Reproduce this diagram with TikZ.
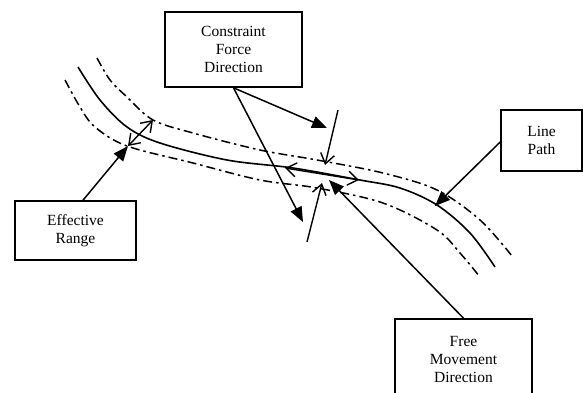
\documentclass[tikz,border=0pt]{standalone}
\usepackage{fontspec}
\setmainfont{Liberation Serif}
\usetikzlibrary{arrows.meta}
\begin{document}
\begin{tikzpicture}[x=1pt,y=-1pt,
  label box/.style={draw, line width=1.6pt, align=center, inner sep=0pt,
    font=\fontsize{15.5}{18}\selectfont},
  guide/.style={line width=1.5pt, dash pattern=on 9pt off 4pt on 2.5pt off 4pt},
  pathline/.style={line width=1.6pt},
  bigarrow/.style={line width=1.5pt, -{Triangle[length=15pt,width=12pt]}},
  openarrow/.style={line width=1.4pt, -{Straight Barb[length=10pt,width=14pt]}},
  opendouble/.style={line width=1.4pt, {Straight Barb[length=10pt,width=14pt]}-{Straight Barb[length=10pt,width=14pt]}}]
\useasboundingbox (0,0) rectangle (583,392);
\clip (0,0) rectangle (583,392);
% boxes
\node[label box, minimum width=137pt, minimum height=75pt] (cfd) at (233.5,49.5) {Constraint\\Force\\Direction};
\node[label box, minimum width=121pt, minimum height=59pt] (er) at (75.5,230.5) {Effective\\Range};
\node[label box, minimum width=81pt, minimum height=61pt] (lp) at (541.5,140.5) {Line\\Path};
\node[label box, minimum width=137pt, minimum height=80pt] (fmd) at (463.5,359) {Free\\Movement\\Direction};
% curves
\draw[pathline] plot[smooth, tension=0.55] coordinates {(78,67) (100,100) (127,127) (160,143) (227,160) (293,168) (360,180) (400,188) (437,205) (470,233) (495,267)};
\draw[guide] plot[smooth, tension=0.55] coordinates {(97,58) (110,80) (127,97) (153,120) (193,133) (260,150) (317,160) (383,173) (437,190) (480,220) (512,256)};
\draw[guide] plot[smooth, tension=0.55] coordinates {(65,80) (80,107) (95,127) (127,146) (193,163) (260,180) (317,188) (383,203) (437,230) (460,253) (480,277)};
% coordinates
\coordinate (erlow) at (128,146);
\coordinate (erup) at (153,120);
\coordinate (cftip1) at (327,128);
\coordinate (cftip2) at (303,222);
\coordinate (s1a) at (338,110);
\coordinate (s1b) at (325,165);
\coordinate (s2a) at (307,242);
\coordinate (s2b) at (322,183);
\coordinate (fmleft) at (285,168);
\coordinate (fmright) at (359,180);
\coordinate (fmtip) at (329,180);
\coordinate (lptip) at (435,206);
% arrows
\draw[opendouble] (erlow) -- (erup);
\draw[bigarrow] (er.north -| 83,0) -- (erlow);
\draw[bigarrow] (cfd.south) -- (cftip1);
\draw[bigarrow] (cfd.south) -- (cftip2);
\draw[openarrow] (s1a) -- (s1b);
\draw[openarrow] (s2a) -- (s2b);
\draw[opendouble] (fmleft) -- (fmright);
\draw[bigarrow] (fmd.north) -- (fmtip);
\draw[bigarrow] (lp.west |- 0,142) -- (lptip);
\end{tikzpicture}
\end{document}
